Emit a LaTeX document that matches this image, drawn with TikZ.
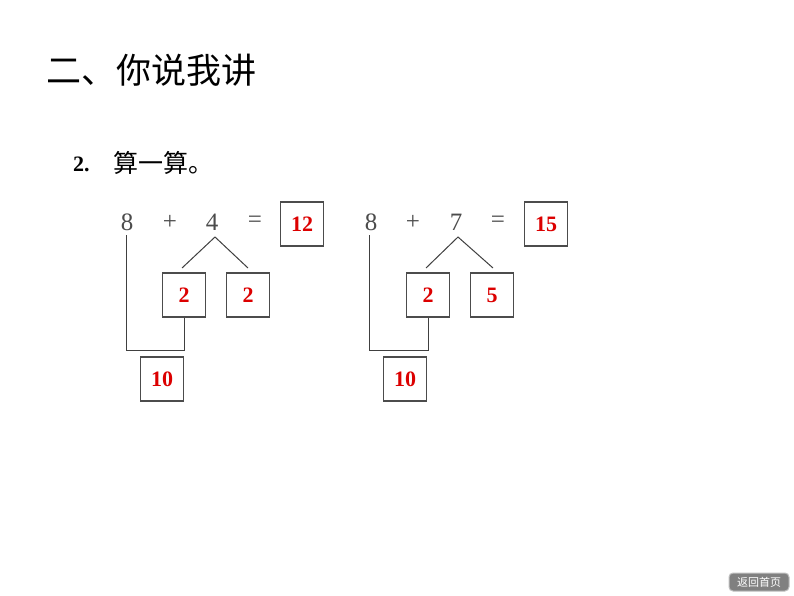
\documentclass[tikz,border=0pt]{standalone}
\usepackage{fontspec}
\setmainfont{Liberation Serif}
\newfontfamily\cjk{Noto Sans CJK SC}
\begin{document}
\begin{tikzpicture}[x=1pt,y=-1pt,
  op/.style={font=\fontsize{25}{25}\selectfont, text=black!70, inner sep=0pt},
  ans/.style={draw=black!70, line width=1.1pt, minimum width=43pt, minimum height=44pt, inner sep=0pt,
     font=\fontsize{22}{22}\selectfont\bfseries, text={rgb,255:red,220;green,0;blue,0}},
  link/.style={draw=black!75, line width=1pt}]
\useasboundingbox (0,0) rectangle (794,596);
\fill[white] (0,0) rectangle (794,596);
% title
\node[anchor=west, inner sep=0pt, font=\fontsize{35}{35}\selectfont\cjk] (title) at (46,70) {二、你说我讲};
\node[anchor=west, inner sep=0pt, font=\fontsize{22}{22}\selectfont\bfseries] (num) at (73,164) {2.};
\node[anchor=west, inner sep=0pt, font=\fontsize{25}{25}\selectfont\cjk] (sub) at (113,163) {算一算。};
% first equation
\node[op] (a8) at (127,222) {8};
\node[op] (aplus) at (170,222) {+};
\node[op] (a4) at (212,222) {4};
\node[op] (aeq) at (255,222) {=};
\node[ans] (a12) at (302,224) {12};
\node[ans] (a2l) at (184,295) {2};
\node[ans] (a2r) at (248,295) {2};
\node[ans] (a10) at (162,379) {10};
\coordinate (aapex) at (215,237);
\coordinate (al) at (182,268);
\coordinate (ar) at (248,268);
\draw[link] (al) -- (aapex) -- (ar);
\coordinate (a8b) at (126,235);
\coordinate (acorner1) at (126,350);
\coordinate (acorner2) at (a2l.south |- acorner1);
\draw[link] (a8b) -- (acorner1) -- (acorner2) -- (a2l.south);
% second equation
\node[op] (b8) at (371,222) {8};
\node[op] (bplus) at (413,222) {+};
\node[op] (b7) at (456,222) {7};
\node[op] (beq) at (498,222) {=};
\node[ans] (b15) at (546,224) {15};
\node[ans] (b2) at (428,295) {2};
\node[ans] (b5) at (492,295) {5};
\node[ans] (b10) at (405,379) {10};
\coordinate (bapex) at (458,237);
\coordinate (bl) at (426,268);
\coordinate (br) at (493,268);
\draw[link] (bl) -- (bapex) -- (br);
\coordinate (b8b) at (369,235);
\coordinate (bcorner1) at (369,350);
\coordinate (bcorner2) at (b2.south |- bcorner1);
\draw[link] (b8b) -- (bcorner1) -- (bcorner2) -- (b2.south);
% button
\node[draw=black!25, line width=1pt, fill=black!50, rounded corners=4pt, minimum width=60pt, minimum height=18pt, inner sep=0pt,
  text=white, font=\fontsize{11}{11}\selectfont\cjk] (back) at (759,582) {返回首页};
\end{tikzpicture}
\end{document}
